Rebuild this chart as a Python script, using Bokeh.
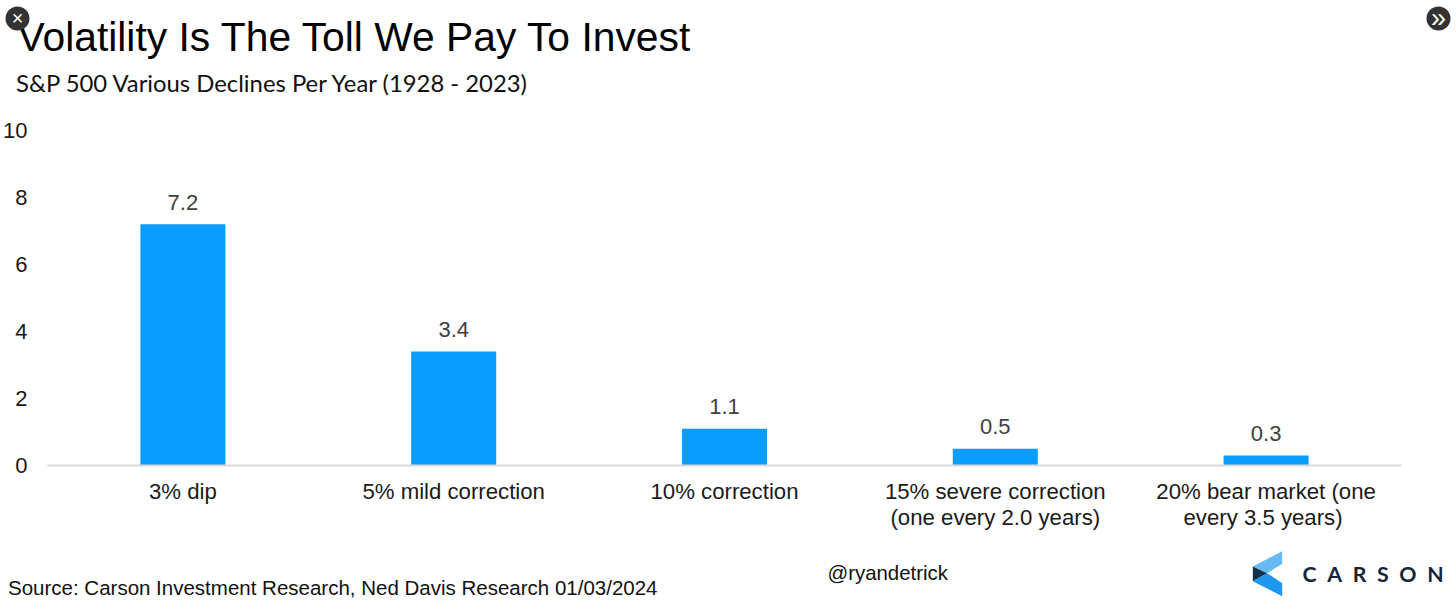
from bokeh.plotting import figure
from bokeh.models import ColumnDataSource, Range1d, Label, BoxAnnotation, PolyAnnotation, FixedTicker
from bokeh.core.properties import value
from bokeh.embed import file_html
from bokeh.resources import INLINE

categories = ["3% dip", "5% mild correction", "10% correction",
              "15% severe correction\n(one every 2.0 years)",
              "20% bear market (one\nevery 3.5  years)"]
declines = [7.2, 3.4, 1.1, 0.5, 0.3]
labels = ["7.2", "3.4", "1.1", "0.5", "0.3"]
y_ticks = [0, 2, 4, 6, 8, 10]

W, H = 1456, 604
# plot area inside the canvas: the frame fills the canvas so that annotations are not clipped
L, R, T, B = 47, 55, 130, 139
n = len(categories)
px_x = (W - L - R) / n
px_y = (H - T - B) / 10
positions = list(range(n))

p = figure(width=W, height=H,
           x_range=Range1d(-0.5 - L / px_x, n - 0.5 + R / px_x),
           y_range=Range1d(-B / px_y, 10 + T / px_y),
           output_backend="svg", toolbar_location=None,
           min_border=0, outline_line_color=None,
           background_fill_color="white", border_fill_color="white", margin=(0, 0, 0, 0))
p.xgrid.visible = False
p.ygrid.visible = False

src = ColumnDataSource(dict(x=positions, val=declines, lab=labels))
p.vbar(x="x", top="val", width=0.314, source=src, color="#0A9DFF", line_color=None)
p.text(x="x", y="val", text="lab", source=src, text_align="center", text_baseline="bottom",
       y_offset=-14.5, text_font=value("Liberation Sans"), text_font_size="22px", text_color="#404040")

ax = p.xaxis[0]
ax.fixed_location = 0
ax.bounds = (-0.5, n - 0.5)
ax.ticker = FixedTicker(ticks=positions)
ax.major_label_overrides = dict(zip(positions, categories))
ax.axis_line_color = "#D9D9D9"
ax.axis_line_width = 2
ax.major_tick_line_color = None
ax.minor_tick_line_color = None
ax.major_tick_out = 0
ax.major_tick_in = 0
ax.minor_tick_out = 0
ax.minor_tick_in = 0
ax.major_label_text_font = "Liberation Sans"
ax.major_label_text_font_size = "22.2px"
ax.major_label_text_color = "#1A1A1A"
ax.major_label_text_line_height = 1.04
ax.major_label_standoff = 13

ay = p.yaxis[0]
ay.fixed_location = -0.5
ay.bounds = (0, 10)
ay.ticker = FixedTicker(ticks=y_ticks)
ay.axis_line_color = None
ay.major_tick_line_color = None
ay.minor_tick_line_color = None
ay.major_tick_out = 0
ay.major_tick_in = 0
ay.minor_tick_out = 0
ay.minor_tick_in = 0
ay.major_label_text_font = "Liberation Sans"
ay.major_label_text_font_size = "22px"
ay.major_label_text_color = "#1A1A1A"
ay.major_label_standoff = 20


def sy(y):
    return H - y


def text(x, y, s, font, size, color="#000000", align="left", style="normal"):
    p.add_layout(Label(x=x, y=sy(y), x_units="screen", y_units="screen", text=s, text_font=font,
                       text_font_size=size, text_color=color, text_align=align,
                       text_baseline="middle", text_font_style=style))


text(17, 36.5, "Volatility Is The Toll We Pay To Invest", "Liberation Sans", "40.8px")
text(15.5, 82, "S&P 500 Various Declines Per Year (1928 - 2023)", "Lato", "23.85px", "#111111")
text(7.5, 587, "Source: Carson Investment Research, Ned Davis Research 01/03/2024", "Liberation Sans", "20.5px", "#111111")
text(827, 572, "@ryandetrick", "Liberation Sans", "20.4px", "#111111")
text(1302, 573, "C\u2002A\u2002R\u2002S\u2002O\u2002N", "Lato", "21.3px", "#14263C", style="bold")

for xs, ys, c in [
    ([1281.7, 1281.7, 1266.7, 1252.3], [550.7, 563.3, 572.7, 566], "#66BBF5"),
    ([1252.3, 1266.7, 1252.3], [566, 572.7, 580.7], "#14304F"),
    ([1252.3, 1266.7, 1281.7, 1281.7], [580.7, 572.7, 582.7, 595.7], "#1E97EE"),
]:
    p.add_layout(PolyAnnotation(xs=xs, ys=[sy(v) for v in ys], xs_units="screen", ys_units="screen",
                                fill_color=c, fill_alpha=1, line_color=None))

for cx, s, fs in [(17, "×", "20px"), (1438, "»", "27px")]:
    p.add_layout(BoxAnnotation(left=cx - 12, right=cx + 12, top=sy(6), bottom=sy(30),
                               left_units="screen", right_units="screen", top_units="screen",
                               bottom_units="screen", border_radius=12, fill_color="#333333",
                               fill_alpha=1, line_color=None))
    text(cx, 17.5, s, "Liberation Sans", fs, "#FFFFFF", "center")

open("out.html", "w").write(file_html(p, INLINE))
